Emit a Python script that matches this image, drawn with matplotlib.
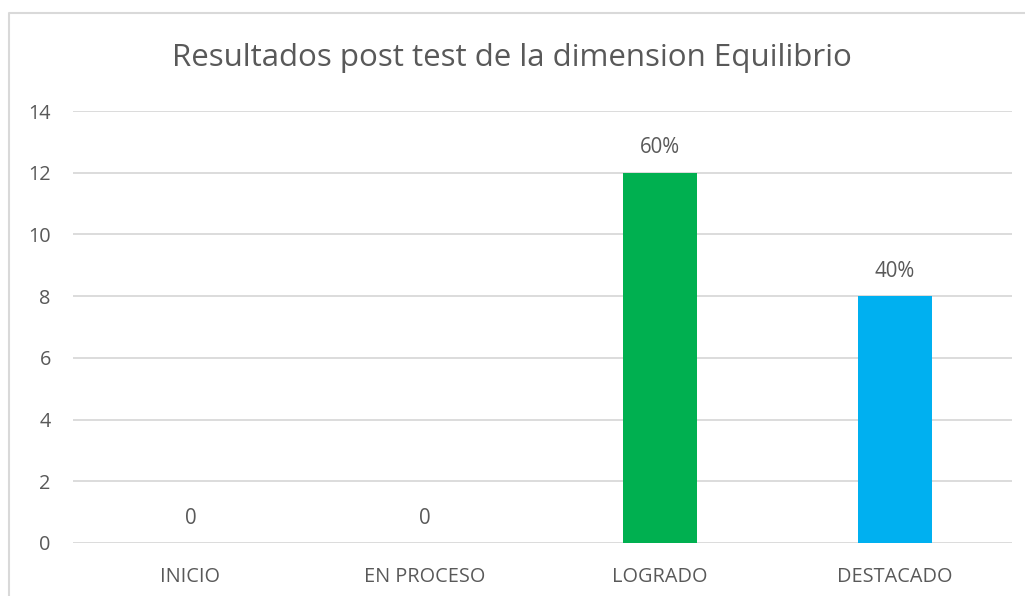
import matplotlib
matplotlib.use("Agg")
import matplotlib.pyplot as plt
from matplotlib.lines import Line2D

categories = ["INICIO", "EN PROCESO", "LOGRADO", "DESTACADO"]
values = [0, 0, 12, 8]
labels = ["0", "0", "60%", "40%"]
colors = ["#00B050", "#00B050", "#00B050", "#00B0F0"]
yticks = [0, 2, 4, 6, 8, 10, 12, 14]
title = "Resultados post test de la dimension Equilibrio"

plt.rcParams['font.family'] = ['Open Sans', 'DejaVu Sans']
txt = "#595959"
W, H = 1025, 596
fig = plt.figure(figsize=(W / 100, H / 100), dpi=100)
ax = fig.add_axes([73 / W, 1 - 543 / H, 939 / W, 432 / H])

x = list(range(len(categories)))
ax.bar(x, values, width=0.315, color=colors, zorder=3)
ax.set_xlim(-0.5, len(categories) - 0.5)
ax.set_ylim(0, 14)
ax.set_yticks(yticks)
ax.set_xticks(x)
ax.set_xticklabels(categories)
ax.grid(axis='y', color="#D9D9D9", linewidth=1.3, zorder=0)
for s in ax.spines.values():
    s.set_visible(False)
ax.tick_params(axis='both', length=0, labelsize=14.3, colors=txt)
ax.tick_params(axis='x', pad=17)
ax.tick_params(axis='y', pad=16)
for lbl in ax.get_yticklabels():
    lbl.set_horizontalalignment('right')

for xi, v, l in zip(x, values, labels):
    ax.annotate(l, (xi, v), xytext=(0, 25 * 0.72), textcoords='offset points',
                ha='center', va='center', fontsize=14.8, color=txt)

fig.text(512 / W, 1 - 58 / H, title, ha='center', va='center', fontsize=22.5, color=txt)

# chart area border (left and top visible)
bx, by = 8.5 / W, 1 - 12.5 / H
fig.add_artist(Line2D([bx, bx, 1.0], [0.0, by, by], transform=fig.transFigure,
                      color="#D9D9D9", linewidth=1.5))

fig.savefig("out.png", dpi=100, facecolor="white")
